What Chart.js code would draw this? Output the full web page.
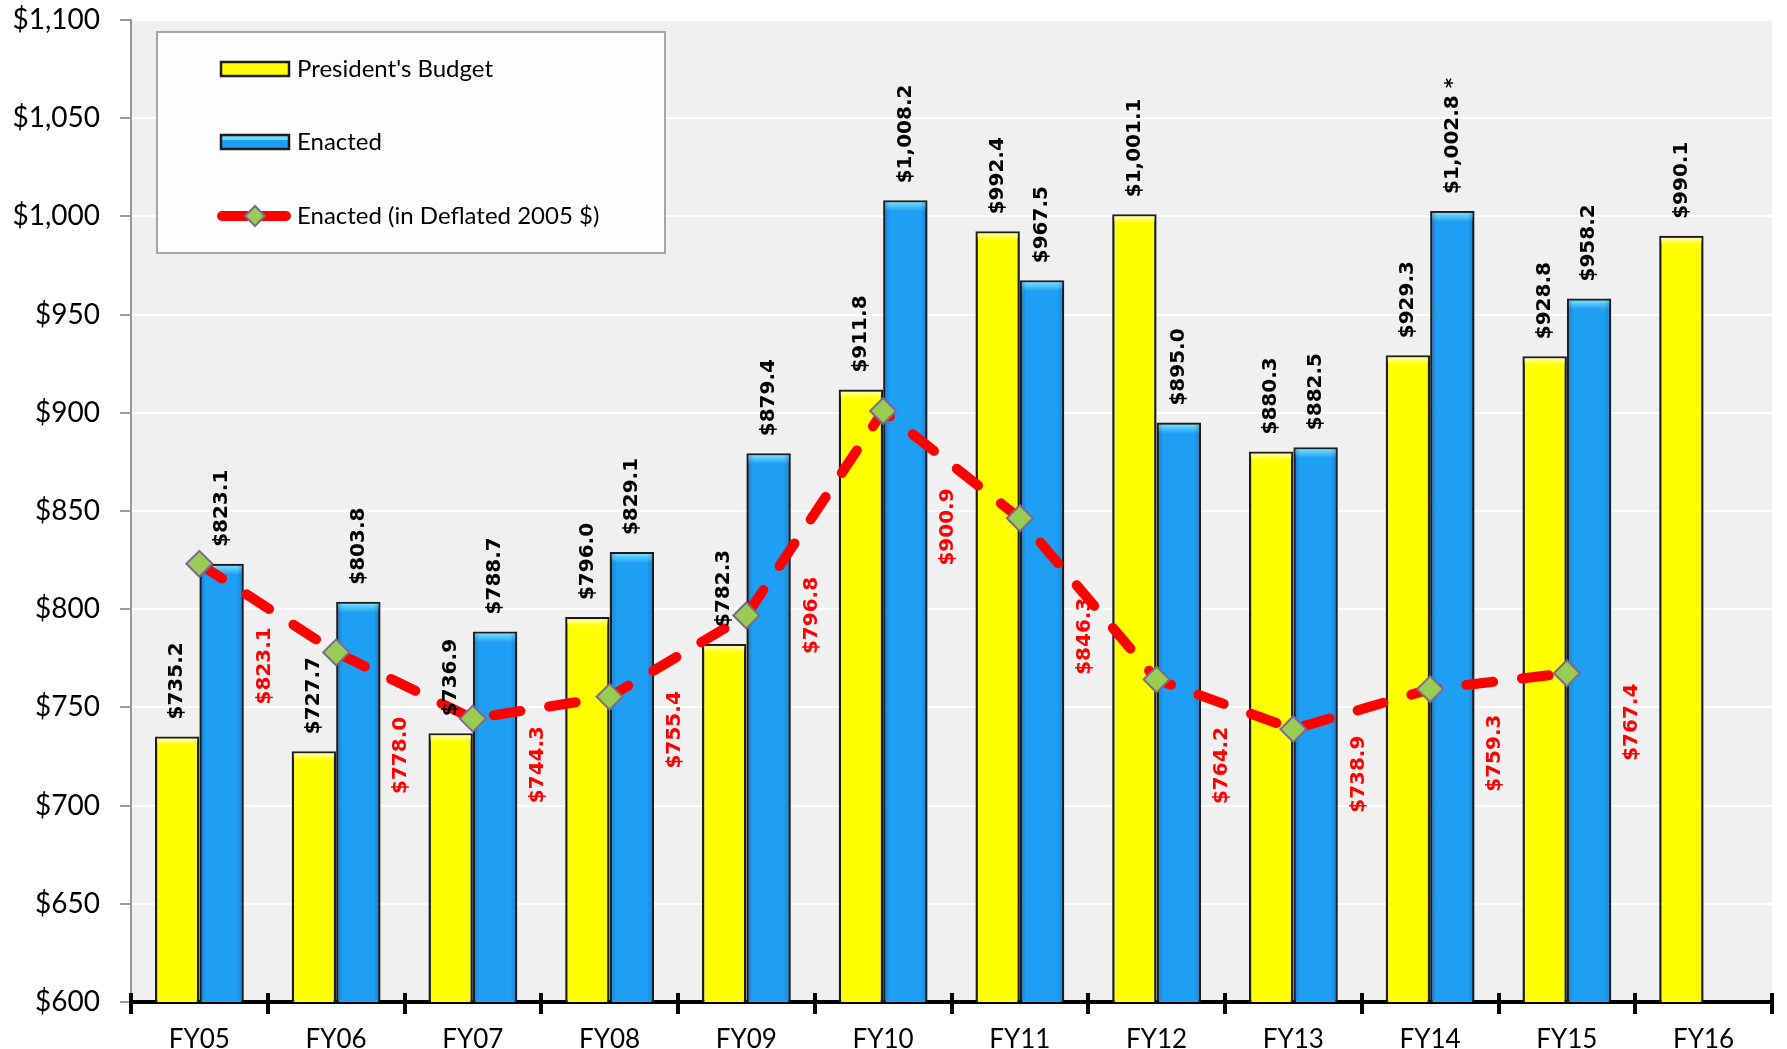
<!DOCTYPE html>
<html><head><meta charset="utf-8">
<script src="https://cdn.jsdelivr.net/npm/chart.js@4/dist/chart.umd.min.js"></script>
<style>html,body{margin:0;padding:0;background:#fff;overflow:hidden}</style>
</head><body>
<canvas id="c" width="1787" height="1049"></canvas>
<script>
// ---- data ----
const categories = ['FY05','FY06','FY07','FY08','FY09','FY10','FY11','FY12','FY13','FY14','FY15','FY16'];
const presidentsBudget = [735.2, 727.7, 736.9, 796.0, 782.3, 911.8, 992.4, 1001.1, 880.3, 929.3, 928.8, 990.1];
const enacted = [823.1, 803.8, 788.7, 829.1, 879.4, 1008.2, 967.5, 895.0, 882.5, 1002.8, 958.2, null];
const enactedDeflated = [823.1, 778.0, 744.3, 755.4, 796.8, 900.9, 846.3, 764.2, 738.9, 759.3, 767.4, null];
const enactedNotes = ['', '', '', '', '', '', '', '', '', '*', '', ''];
const yTicks = [600, 650, 700, 750, 800, 850, 900, 950, 1000, 1050, 1100];
const seriesNames = ["President's Budget", 'Enacted', 'Enacted (in Deflated 2005 $)'];

// ---- layout / style (not data) ----
const deflLabelDy = [102, 103, 46, 33, 0, 116, 118, 86, 45, 64, 49, 0];
const deflLabelDx = 65;

function fmt1(v){ return '$' + v.toLocaleString('en-US',{minimumFractionDigits:1, maximumFractionDigits:1}); }
function fmt0(v){ return '$' + v.toLocaleString('en-US'); }

const bgPlugin = {
  id:'bg',
  beforeDraw(chart){
    const {ctx, chartArea:a} = chart;
    ctx.save();
    ctx.fillStyle = '#ffffff';
    ctx.fillRect(0,0,chart.width,chart.height);
    ctx.fillStyle = '#f0f0f0';
    ctx.fillRect(a.left, a.top, a.right-a.left, a.bottom-a.top);
    ctx.restore();
  }
};

const bevelPlugin = {
  id:'bevel',
  afterDatasetDraw(chart, args){
    if (args.index !== 1 && args.index !== 0) return;
    const ctx = chart.ctx;
    const bottom = chart.chartArea.bottom;
    args.meta.data.forEach((el, i) => {
      const v = chart.data.datasets[args.index].data[i];
      if (v == null) return;
      const w = el.width, x0 = el.x - w/2 + 2, y0 = el.y + 2;
      const h = Math.min(el.base, bottom) - y0 - 2;
      ctx.save();
      if (args.index === 1) {
        const g = ctx.createLinearGradient(0, y0, 0, y0 + 9);
        g.addColorStop(0, 'rgba(120,225,255,0.95)');
        g.addColorStop(1, 'rgba(120,225,255,0)');
        ctx.fillStyle = g;
        ctx.fillRect(x0, y0, w - 4, 9);
        const gs = ctx.createLinearGradient(x0, 0, x0 + w - 4, 0);
        gs.addColorStop(0, 'rgba(0,60,140,0.25)');
        gs.addColorStop(0.12, 'rgba(0,60,140,0)');
        gs.addColorStop(0.88, 'rgba(0,60,140,0)');
        gs.addColorStop(1, 'rgba(0,60,140,0.25)');
        ctx.fillStyle = gs;
        ctx.fillRect(x0, y0, w - 4, h);
      } else {
        const g = ctx.createLinearGradient(0, y0, 0, y0 + 7);
        g.addColorStop(0, 'rgba(255,255,190,0.9)');
        g.addColorStop(1, 'rgba(255,255,190,0)');
        ctx.fillStyle = g;
        ctx.fillRect(x0, y0, w - 4, 7);
      }
      ctx.restore();
    });
  }
};

const labelPlugin = {
  id:'labels',
  afterDatasetsDraw(chart){
    const ctx = chart.ctx;
    ctx.save();
    ctx.font = 'bold 20px "DejaVu Sans", Verdana, sans-serif';
    ctx.textBaseline = 'middle';
    [0,1].forEach(di => {
      const meta = chart.getDatasetMeta(di);
      meta.data.forEach((el, i) => {
        const v = chart.data.datasets[di].data[i];
        if (v == null) return;
        let t = fmt1(v);
        if (di === 1 && enactedNotes[i]) t += ' ' + enactedNotes[i];
        ctx.save();
        ctx.translate(el.x, el.y - 17);
        ctx.rotate(-Math.PI/2);
        ctx.textAlign = 'left';
        ctx.fillStyle = '#000';
        ctx.fillText(t, 0, 0);
        ctx.restore();
      });
    });
    const lm = chart.getDatasetMeta(2);
    lm.data.forEach((el, i) => {
      const v = enactedDeflated[i];
      if (v == null) return;
      ctx.save();
      ctx.translate(el.x + deflLabelDx, el.y + deflLabelDy[i]);
      ctx.rotate(-Math.PI/2);
      ctx.textAlign = 'center';
      ctx.fillStyle = '#ff0000';
      ctx.fillText(fmt1(v), 0, 0);
      ctx.restore();
    });
    const xs = chart.scales.x;
    const n = categories.length;
    const step = (xs.right - xs.left) / n;
    ctx.strokeStyle = '#000';
    ctx.lineWidth = 4;
    for (let i = 0; i <= n; i++) {
      const x = Math.round(xs.left + i*step);
      ctx.beginPath();
      ctx.moveTo(x, xs.top - 9);
      ctx.lineTo(x, xs.top + 12);
      ctx.stroke();
    }
    ctx.restore();
  }
};

const legendPlugin = {
  id:'legendBox',
  afterDraw(chart){
    const ctx = chart.ctx;
    ctx.save();
    ctx.fillStyle = '#fdfdfd';
    ctx.fillRect(157, 32, 508, 221);
    ctx.strokeStyle = '#a6a6a6';
    ctx.lineWidth = 2;
    ctx.strokeRect(157, 32, 508, 221);
    const ys = [69, 142, 216];
    ctx.font = '24px Lato, "Open Sans", sans-serif';
    ctx.textBaseline = 'middle';
    ctx.textAlign = 'left';
    const sw = ['#ffff00', '#1e9ff3'];
    for (let k = 0; k < 2; k++) {
      ctx.fillStyle = sw[k];
      ctx.fillRect(221, ys[k]-7, 68, 14);
      if (k === 1) {
        ctx.fillStyle = 'rgba(120,225,255,0.9)';
        ctx.fillRect(222, ys[k]-6, 66, 4);
      }
      ctx.strokeStyle = '#1c1c1c';
      ctx.lineWidth = 2.5;
      ctx.strokeRect(221, ys[k]-7, 68, 14);
    }
    ctx.strokeStyle = '#ff0000';
    ctx.lineWidth = 10;
    ctx.lineCap = 'round';
    ctx.beginPath(); ctx.moveTo(222, ys[2]); ctx.lineTo(286, ys[2]); ctx.stroke();
    ctx.beginPath();
    ctx.moveTo(255, ys[2]-10); ctx.lineTo(265, ys[2]); ctx.lineTo(255, ys[2]+10); ctx.lineTo(245, ys[2]); ctx.closePath();
    ctx.fillStyle = '#9acb52'; ctx.fill();
    ctx.strokeStyle = '#7a6a90'; ctx.lineWidth = 2; ctx.stroke();
    ctx.fillStyle = '#000';
    for (let k = 0; k < 3; k++) ctx.fillText(seriesNames[k], 297, ys[k]);
    ctx.restore();
  }
};

new Chart(document.getElementById('c'), {
  data: {
    labels: categories,
    datasets: [
      { type:'bar', label: seriesNames[0], data: presidentsBudget, backgroundColor:'#ffff00', borderColor:'#1c1c1c', borderWidth:2.5, borderSkipped:'bottom', categoryPercentage:0.65, barPercentage:1.0, order:1 },
      { type:'bar', label: seriesNames[1], data: enacted, backgroundColor:'#1e9ff3', borderColor:'#1c1c1c', borderWidth:2.5, borderSkipped:'bottom', categoryPercentage:0.65, barPercentage:1.0, order:1 },
      { type:'line', label: seriesNames[2], data: enactedDeflated, borderColor:'#ff0000', borderWidth:10, borderDash:[27,29], borderCapStyle:'round', tension:0, fill:false,
        pointStyle:'rectRot', pointRadius:13, pointBackgroundColor:'#9acb52', pointBorderColor:'#7a6a90', pointBorderWidth:2, spanGaps:false, order:0 }
    ]
  },
  options: {
    responsive:false, animation:false, devicePixelRatio:1,
    layout:{ padding:{ top:20, right:8, left:0, bottom:0 } },
    plugins:{ legend:{ display:false }, tooltip:{ enabled:false } },
    scales:{
      x:{
        offset:true,
        grid:{ display:false },
        border:{ display:true, color:'#000', width:4 },
        ticks:{ color:'#000', font:{ family:'Lato, "Open Sans", sans-serif', size:26 }, padding:14, maxRotation:0 },
        afterFit(s){ s.height = 47; s.paddingLeft = 0; s.paddingRight = 0; }
      },
      y:{
        min:600, max:1100,
        afterBuildTicks(s){ s.ticks = yTicks.map(v => ({ value:v })); },
        grid:{ color:'#ffffff', lineWidth:2, tickLength:11, tickColor:'#999999', tickWidth:2 },
        border:{ display:true, color:'#999999', width:2 },
        ticks:{ color:'#000', font:{ family:'Lato, "Open Sans", sans-serif', size:28 }, padding:20, callback:(v)=>fmt0(v) },
        afterFit(s){ s.width = 131; s.paddingTop = 0; s.paddingBottom = 0; }
      }
    }
  },
  plugins:[bgPlugin, bevelPlugin, labelPlugin, legendPlugin]
});
</script>
</body></html>
